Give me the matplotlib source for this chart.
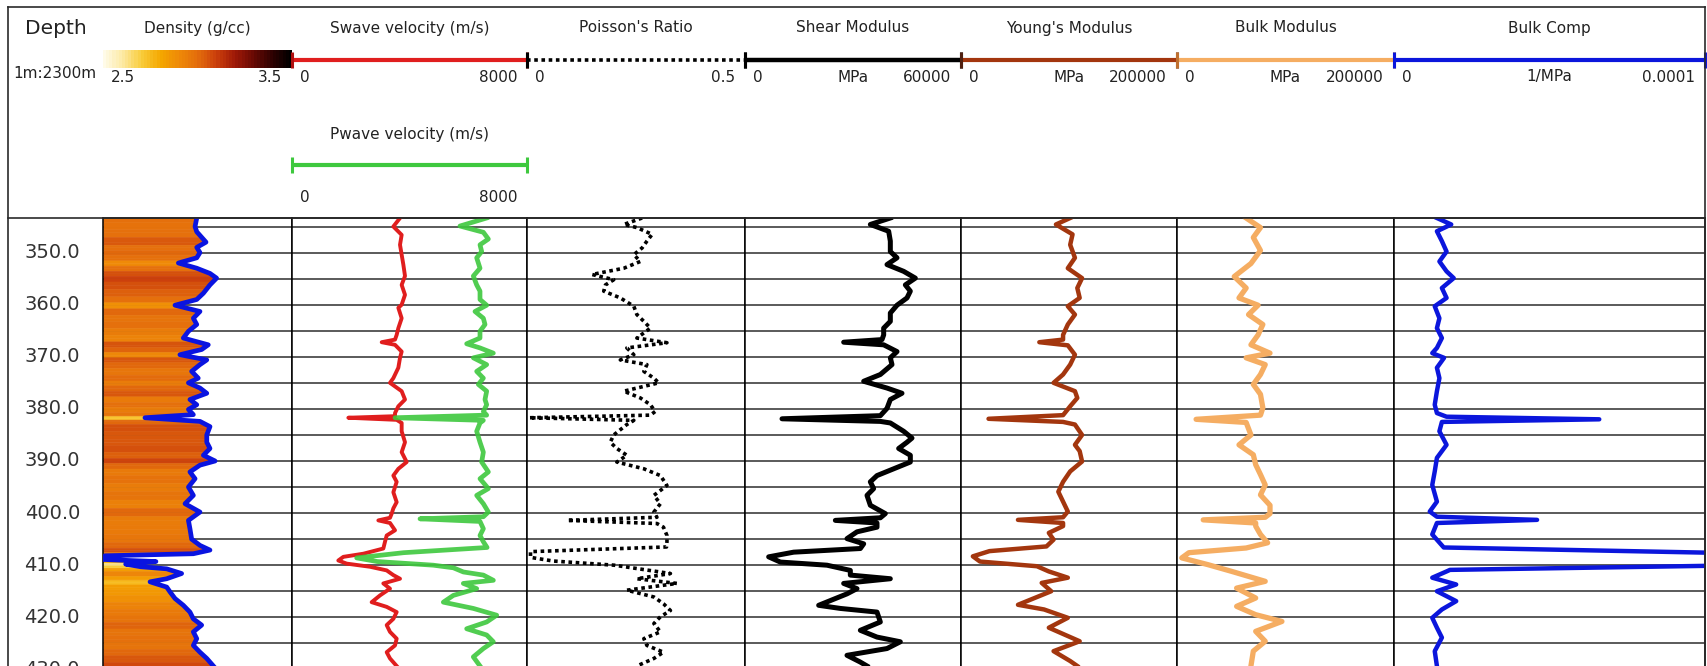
import matplotlib
matplotlib.use("Agg")
import matplotlib.pyplot as plt
from matplotlib.colors import Normalize, LinearSegmentedColormap
from matplotlib import transforms
import numpy as np

# ---------------------------------------------------------------- data
depth_ticks = [350, 360, 370, 380, 390, 400, 410, 420, 430]
grid_depths = [345, 350, 355, 360, 365, 370, 375, 380, 385, 390, 395, 400,
               405, 410, 415, 420, 425]

density_log = [(343.36, 2.996), (345.0, 2.987), (346.0, 2.996), (348.0, 3.045), (349.0, 2.996),
               (350.0, 3.013), (351.0, 2.996), (352.0, 2.899), (353.0, 2.996), (354.0, 3.066),
               (354.9, 3.101), (356.2, 3.066), (357.8, 3.031), (359.0, 2.996), (360.1, 2.881),
               (361.3, 3.013), (362.6, 2.978), (363.8, 2.996), (365.1, 2.952), (366.4, 2.925),
               (367.7, 3.057), (368.6, 3.022), (369.6, 2.907), (370.6, 3.049), (371.5, 3.013),
               (372.8, 2.969), (374.1, 3.004), (375.0, 2.952), (376.0, 3.013), (377.0, 3.049),
               (378.2, 2.960), (379.2, 2.996), (380.1, 2.952), (381.1, 2.978), (381.7, 2.722),
               (382.4, 3.013), (383.4, 3.066), (385.0, 3.049), (386.4, 3.049), (387.6, 3.066),
               (388.9, 3.031), (390.0, 3.093), (390.8, 3.013), (392.1, 2.960), (393.4, 2.987),
               (395.0, 2.952), (396.6, 2.978), (398.2, 2.934), (399.8, 3.013), (401.4, 2.952),
               (403.0, 2.960), (405.0, 2.969), (406.2, 3.013), (407.1, 3.066), (407.8, 2.978),
               (408.2, 2.510), (408.9, 2.500), (409.3, 2.780), (409.8, 2.620), (410.3, 2.700),
               (410.7, 2.837), (411.6, 2.916), (412.6, 2.837), (413.2, 2.749), (414.2, 2.837),
               (415.1, 2.854), (416.4, 2.881), (417.7, 2.925), (419.0, 2.960), (420.3, 2.978),
               (421.5, 3.022), (422.8, 2.978), (424.1, 2.996), (425.4, 2.978), (426.7, 3.013),
               (427.9, 3.049), (429.35, 3.084)]

swave_log = [(343.36, 3677), (345.0, 3450), (346.6, 3733), (348.5, 3677), (350.4, 3733),
             (352.3, 3790), (354.5, 3847), (356.2, 3733), (358.1, 3847), (360.0, 3733),
             (360.6, 3620), (362.6, 3733), (364.5, 3620), (365.8, 3563), (366.7, 3507),
             (367.2, 3053), (367.7, 3507), (369.0, 3733), (370.2, 3677), (372.1, 3620),
             (374.1, 3450), (375.0, 3336), (376.6, 3733), (378.2, 3847), (379.5, 3620),
             (380.8, 3507), (381.4, 3507), (381.7, 1918), (382.1, 3563), (382.7, 3733),
             (384.3, 3733), (386.4, 3847), (388.3, 3733), (390.2, 3904), (391.5, 3620),
             (392.8, 3450), (394.0, 3563), (396.0, 3450), (397.9, 3563), (399.1, 3450),
             (400.1, 3393), (400.9, 3336), (401.4, 2939), (401.9, 3336), (403.3, 3507),
             (404.3, 3223), (405.5, 3166), (406.8, 3109), (407.8, 2428), (408.4, 1748),
             (409.1, 1577), (409.7, 1861), (410.3, 2655), (411.0, 3223), (411.9, 3450),
             (412.6, 3677), (413.5, 3109), (414.5, 3336), (415.8, 2996), (417.1, 2712),
             (418.0, 3223), (419.0, 3563), (420.3, 3450), (421.5, 3223), (422.8, 3336),
             (424.1, 3563), (425.4, 3507), (426.7, 3223), (427.9, 3336), (429.35, 3563)]

pwave_log = [(343.36, 6627), (344.9, 5719), (346.1, 6514), (347.4, 6684), (348.5, 6400),
             (349.8, 6457), (351.0, 6287), (353.0, 6400), (354.5, 6173), (356.2, 6287),
             (357.4, 6400), (359.0, 6400), (360.1, 6627), (361.3, 6230), (362.6, 6514),
             (363.8, 6570), (365.1, 6400), (366.4, 6400), (367.5, 5946), (368.3, 6400),
             (369.3, 6854), (370.2, 6173), (371.5, 6627), (372.8, 6287), (374.1, 6514),
             (375.3, 6344), (376.6, 6627), (378.2, 6570), (379.2, 6627), (380.5, 6514),
             (381.2, 6627), (381.7, 3507), (382.2, 6514), (382.7, 6400), (384.3, 6287),
             (386.4, 6400), (388.3, 6514), (390.2, 6457), (392.1, 6684), (393.4, 6400),
             (395.3, 6684), (396.6, 6287), (398.2, 6514), (399.8, 6684), (400.7, 6514),
             (401.1, 4358), (401.6, 6400), (403.0, 6514), (404.3, 6400), (405.5, 6514),
             (406.6, 6640), (407.6, 3800), (408.6, 2202), (409.3, 2900), (410.0, 4812),
             (410.5, 5492), (411.3, 5833), (411.9, 6514), (412.9, 6854), (413.5, 5833),
             (414.5, 6287), (415.8, 5492), (417.1, 5152), (418.3, 6173), (419.6, 6968),
             (420.9, 6627), (422.2, 5946), (423.4, 6627), (424.7, 6854), (426.0, 6514),
             (427.6, 6173), (429.35, 6400)]

poisson_log = [(343.36, 0.264), (344.6, 0.222), (345.2, 0.252), (346.5, 0.287), (347.8, 0.275),
               (349.1, 0.264), (350.4, 0.245), (351.7, 0.260), (353.0, 0.222), (354.2, 0.149),
               (355.2, 0.199), (356.2, 0.180), (357.4, 0.176), (358.7, 0.214), (360.3, 0.245),
               (361.9, 0.252), (363.2, 0.268), (364.5, 0.283), (366.4, 0.252), (367.3, 0.321),
               (368.3, 0.229), (369.6, 0.245), (370.6, 0.214), (371.5, 0.275), (372.8, 0.268),
               (374.1, 0.291), (375.0, 0.302), (376.6, 0.222), (377.9, 0.260), (379.2, 0.283),
               (380.5, 0.294), (381.2, 0.283), (381.7, 0.005), (382.2, 0.245), (383.0, 0.229),
               (385.0, 0.199), (386.4, 0.191), (387.6, 0.206), (388.9, 0.229), (390.2, 0.206),
               (391.5, 0.268), (392.8, 0.306), (394.7, 0.321), (396.6, 0.291), (398.2, 0.306),
               (399.8, 0.291), (400.8, 0.298), (401.4, 0.092), (402.0, 0.298), (402.7, 0.313),
               (404.3, 0.321), (405.5, 0.321), (406.5, 0.320), (407.4, 0.008), (408.5, 0.008),
               (409.2, 0.060), (410.0, 0.200), (411.6, 0.329), (412.6, 0.252), (413.5, 0.344),
               (414.8, 0.229), (416.1, 0.291), (417.4, 0.313), (418.7, 0.329), (419.9, 0.306),
               (421.2, 0.291), (422.8, 0.306), (424.1, 0.268), (425.4, 0.275), (426.7, 0.313),
               (427.9, 0.291), (429.35, 0.252)]

shear_log = [(343.36, 40370), (344.6, 34815), (345.9, 39907), (347.8, 40370), (349.8, 40370),
             (351.0, 42222), (352.3, 39444), (353.6, 44074), (354.9, 47315), (356.2, 44537),
             (357.4, 45926), (358.7, 45000), (360.1, 42222), (361.6, 40370), (363.2, 40370),
             (364.5, 38519), (365.8, 38519), (366.7, 38055), (367.2, 27407), (367.7, 38519),
             (369.0, 42222), (370.2, 40370), (371.5, 40833), (373.4, 37593), (374.7, 32963),
             (376.0, 39444), (377.0, 43611), (378.2, 40370), (379.9, 39444), (381.3, 37593),
             (381.9, 10278), (382.4, 37593), (382.7, 40370), (384.3, 44074), (385.6, 46389),
             (386.4, 45000), (387.6, 42685), (388.9, 45926), (390.2, 45926), (391.5, 41296),
             (392.8, 36667), (394.0, 34815), (395.3, 35741), (396.6, 33889), (398.5, 34815),
             (400.1, 38981), (400.9, 37593), (401.4, 25093), (401.9, 36667), (402.7, 36667),
             (403.6, 31111), (404.9, 28333), (405.9, 32963), (406.8, 32037), (407.5, 13518),
             (408.4, 6574), (409.4, 9815), (410.0, 22778), (411.0, 29259), (411.9, 29259),
             (412.6, 40370), (413.5, 27407), (414.5, 31111), (415.5, 28333), (417.7, 20463),
             (418.3, 26481), (419.0, 36667), (420.9, 37593), (422.5, 32037), (423.8, 36667),
             (424.7, 43148), (426.0, 39444), (427.3, 28333), (428.6, 32037), (429.35, 33889)]

young_log = [(343.36, 101099), (344.6, 87912), (346.5, 103297), (348.5, 101099), (351.0, 105495),
             (353.0, 98901), (354.9, 112088), (356.8, 107692), (358.7, 109890), (360.3, 98901),
             (361.9, 105495), (363.8, 98901), (365.8, 94505), (366.7, 94505), (367.2, 72527),
             (367.8, 98901), (369.6, 105495), (371.5, 101099), (373.4, 94505), (375.0, 85714),
             (376.6, 105495), (377.9, 107692), (379.5, 101099), (381.2, 94505), (381.9, 25495),
             (382.5, 94505), (383.0, 105495), (385.0, 112088), (386.9, 105495), (388.1, 109890),
             (390.1, 112088), (392.0, 101099), (394.0, 94505), (395.9, 90110), (397.8, 94505),
             (399.7, 98901), (400.8, 94505), (401.3, 52747), (401.9, 94505), (402.5, 94505),
             (403.8, 81319), (405.1, 85714), (406.4, 79121), (407.3, 26374), (408.3, 10989),
             (409.3, 17582), (410.2, 70330), (411.2, 81319), (412.4, 98901), (413.4, 74725),
             (415.0, 83516), (417.6, 52747), (418.5, 76923), (420.1, 98901), (422.0, 81319),
             (424.6, 109890), (426.5, 85714), (428.4, 101099), (429.35, 107692)]

bulk_log = [(343.36, 63736), (345.2, 76923), (347.1, 70330), (349.6, 76923), (352.1, 68132),
            (354.6, 52747), (356.8, 63736), (358.7, 57143), (360.1, 74725), (361.9, 65934),
            (363.8, 79121), (365.8, 74725), (367.7, 68132), (369.3, 85714), (370.2, 63736),
            (371.5, 81319), (373.4, 76923), (375.3, 70330), (377.2, 76923), (379.8, 79121),
            (381.2, 76923), (382.0, 17582), (382.6, 63736), (385.0, 68132), (386.9, 57143),
            (388.8, 70330), (390.7, 72527), (392.6, 76923), (394.6, 81319), (396.5, 76923),
            (398.5, 85714), (400.1, 85714), (400.8, 81319), (401.3, 24176), (401.9, 72527),
            (402.5, 72527), (404.1, 76923), (405.7, 83516), (406.7, 63736), (407.6, 10989),
            (408.6, 4396), (409.9, 28571), (411.2, 50549), (413.1, 81319), (414.4, 54945),
            (416.3, 72527), (417.9, 54945), (419.5, 72527), (420.8, 96703), (422.7, 72527),
            (424.6, 81319), (426.5, 70330), (429.35, 68132)]

comp_log = [(343.36, 1.38e-5), (344.6, 1.84e-5), (345.9, 1.38e-5), (347.8, 1.54e-5), (349.8, 1.69e-5),
            (351.7, 1.46e-5), (353.6, 1.69e-5), (354.9, 1.92e-5), (356.8, 1.54e-5), (358.7, 1.69e-5),
            (360.3, 1.31e-5), (362.6, 1.46e-5), (364.5, 1.38e-5), (366.4, 1.54e-5), (368.3, 1.38e-5),
            (369.3, 1.23e-5), (370.2, 1.61e-5), (372.1, 1.38e-5), (374.1, 1.46e-5), (376.6, 1.38e-5),
            (379.2, 1.31e-5), (380.8, 1.38e-5), (381.5, 1.69e-5), (382.0, 6.6e-5), (382.5, 1.54e-5),
            (384.3, 1.46e-5), (386.9, 1.69e-5), (389.4, 1.38e-5), (392.0, 1.31e-5), (394.6, 1.23e-5),
            (397.8, 1.38e-5), (399.7, 1.15e-5), (400.7, 1.38e-5), (401.3, 4.6e-5), (401.9, 1.38e-5),
            (404.1, 1.23e-5), (406.6, 1.6e-5), (409.0, 2.2e-4), (410.9, 1.8e-5), (411.2, 1.69e-5),
            (412.4, 1.23e-5), (413.7, 2.0e-5), (415.0, 1.38e-5), (416.9, 2.0e-5), (418.5, 1.54e-5),
            (420.1, 1.23e-5), (422.0, 1.38e-5), (423.9, 1.54e-5), (426.5, 1.31e-5), (429.35, 1.38e-5)]

# ---------------------------------------------------------------- layout
W, H = 1707, 666
fig = plt.figure(figsize=(W / 100, H / 100), dpi=100)
fig.patch.set_facecolor("white")

TOP, HDR = 7, 218
LEFT, RIGHT = 8, 1705
D_TOP, D_BOT = 343.36, 429.35
TXT = "#222222"
FS = 11
edges = [103, 292, 527, 745, 961, 1177, 1394, 1705]
ranges = [(2.5, 3.5), (0, 8000), (0, 0.5), (0, 60000), (0, 200000), (0, 200000), (0, 0.0001)]

cmap = LinearSegmentedColormap.from_list(
    "dens", ["#fffbe8", "#fde9a0", "#f9cc3a", "#f5a800", "#ef8a08", "#e46e0c",
             "#cc400c", "#a01a08", "#6a0a04", "#300202", "#000000"])
dnorm = Normalize(2.5, 3.5)


def axes_px(x0, y0, x1, y1, **kw):
    return fig.add_axes([x0 / W, 1 - y1 / H, (x1 - x0) / W, (y1 - y0) / H], **kw)


def unzip(log):
    d, v = zip(*log)
    return np.array(d), np.array(v)


# depth column
dax = axes_px(LEFT, HDR, edges[0], H)
dax.set_xlim(LEFT, edges[0])
dax.set_ylim(D_BOT, D_TOP)
dax.axis("off")
for t in depth_ticks:
    dax.text(80, t, f"{t:.1f}", ha="right", va="center", fontsize=14, color="#333333",
             clip_on=False)

# data tracks
tracks = []
for i in range(7):
    ax = axes_px(edges[i], HDR, edges[i + 1], H)
    ax.set_xlim(*ranges[i])
    ax.set_ylim(D_BOT, D_TOP)
    ax.set_xticks([])
    ax.set_yticks([])
    for s in ("left", "right", "top"):
        ax.spines[s].set_color("black")
        ax.spines[s].set_linewidth(1.1)
    ax.spines["bottom"].set_visible(False)
    for g in grid_depths:
        ax.axhline(g, color="#4d4d4d", lw=1.3, zorder=1)
    tracks.append(ax)

# density: colour-filled track
dd, dv = unzip(density_log)
ax = tracks[0]
for i in range(len(dd) - 1):
    dm = (dd[i] + dd[i + 1]) / 2
    vm = (dv[i] + dv[i + 1]) / 2
    c0, c1 = cmap(dnorm(dv[i])), cmap(dnorm(dv[i + 1]))
    ax.fill_betweenx([dd[i], dm], 2.5, [dv[i], vm], color=c0, lw=0.4, edgecolor=c0, zorder=2)
    ax.fill_betweenx([dm, dd[i + 1]], 2.5, [vm, dv[i + 1]], color=c1, lw=0.4, edgecolor=c1,
                     zorder=2)
ax.plot(dv, dd, color="#0a14e0", lw=3.4, zorder=3, solid_joinstyle="round")

RED, GREEN, BROWN, LORANGE, BLUE = "#e01e1e", "#3ec83e", "#a3360e", "#f5ad62", "#0b16dc"

d, v = unzip(swave_log)
tracks[1].plot(v, d, color=RED, lw=2.8, zorder=3)
d, v = unzip(pwave_log)
tracks[1].plot(v, d, color=GREEN, lw=3.4, zorder=4, alpha=0.9)
d, v = unzip(poisson_log)
tracks[2].plot(v, d, color="black", lw=2.6, ls=(0, (1.0, 1.0)), zorder=3)
d, v = unzip(shear_log)
tracks[3].plot(v, d, color="black", lw=3.6, zorder=3)
d, v = unzip(young_log)
tracks[4].plot(v, d, color=BROWN, lw=3.2, zorder=3)
d, v = unzip(bulk_log)
tracks[5].plot(v, d, color=LORANGE, lw=3.8, zorder=3)
d, v = unzip(comp_log)
tracks[6].plot(v, d, color=BLUE, lw=3.2, zorder=3)

# ---------------------------------------------------------------- header
TITLE_Y, BAR_Y, LAB_Y = 28, 60, 77
P_TITLE_Y, P_BAR_Y, P_LAB_Y = 135, 165, 197


def header_axes(i):
    hx = axes_px(edges[i], TOP, edges[i + 1], HDR)
    hx.set_xlim(*ranges[i])
    hx.set_ylim(HDR, TOP)
    hx.axis("off")
    return hx


def title(hx, y, s):
    tr = transforms.blended_transform_factory(hx.transAxes, hx.transData)
    hx.text(0.5, y, s, transform=tr, ha="center", va="center", fontsize=FS, color=TXT)


def labels(hx, y, left, right, mid=None):
    x0, x1 = hx.get_xlim()
    hx.annotate(left, xy=(x0, y), xytext=(8 * 0.72, 0), textcoords="offset points",
                ha="left", va="center", fontsize=FS, color=TXT, annotation_clip=False)
    hx.annotate(right, xy=(x1, y), xytext=(-10 * 0.72, 0), textcoords="offset points",
                ha="right", va="center", fontsize=FS, color=TXT, annotation_clip=False)
    if mid:
        title(hx, y, mid)


def scale_bar(hx, y, color, lw=3.0, ls="-", cap=None):
    x0, x1 = hx.get_xlim()
    hx.plot([x0, x1], [y, y], color=color, lw=lw, ls=ls, clip_on=False, solid_capstyle="butt")
    hx.plot([x0, x1], [y, y], ls="none", marker="|", ms=11, mew=2.2, color=cap or color,
            clip_on=False)


# depth header
dh = axes_px(LEFT, TOP, edges[0], HDR)
dh.set_xlim(LEFT, edges[0])
dh.set_ylim(HDR, TOP)
dh.axis("off")
dh.text(56, TITLE_Y, "Depth", ha="center", va="center", fontsize=14.5, color=TXT)
dh.text(13, 73, "1m:2300m", ha="left", va="center", fontsize=FS, color=TXT)

# density header
hx = header_axes(0)
grad = np.linspace(2.5, 3.5, 60).reshape(1, -1)
hx.imshow(grad, extent=[2.5, 3.5, 68, 50], aspect="auto", cmap=cmap, norm=dnorm,
          interpolation="nearest")
hx.set_xlim(*ranges[0])
hx.set_ylim(HDR, TOP)
title(hx, TITLE_Y, "Density (g/cc)")
labels(hx, LAB_Y, "2.5", "3.5")

hx = header_axes(1)
title(hx, TITLE_Y, "Swave velocity (m/s)")
scale_bar(hx, BAR_Y, RED, cap="#b01010")
labels(hx, LAB_Y, "0", "8000")
title(hx, P_TITLE_Y, "Pwave velocity (m/s)")
scale_bar(hx, P_BAR_Y, GREEN)
labels(hx, P_LAB_Y, "0", "8000")

hx = header_axes(2)
title(hx, TITLE_Y, "Poisson's Ratio")
scale_bar(hx, BAR_Y, "black", lw=2.6, ls=(0, (1.0, 1.0)))
labels(hx, LAB_Y, "0", "0.5")

hx = header_axes(3)
title(hx, TITLE_Y, "Shear Modulus")
scale_bar(hx, BAR_Y, "black", lw=3.2)
labels(hx, LAB_Y, "0", "60000", "MPa")

hx = header_axes(4)
title(hx, TITLE_Y, "Young's Modulus")
scale_bar(hx, BAR_Y, BROWN, cap="#502010")
labels(hx, LAB_Y, "0", "200000", "MPa")

hx = header_axes(5)
title(hx, TITLE_Y, "Bulk Modulus")
scale_bar(hx, BAR_Y, LORANGE, cap="#c07030")
labels(hx, LAB_Y, "0", "200000", "MPa")

hx = header_axes(6)
title(hx, TITLE_Y, "Bulk Comp")
scale_bar(hx, BAR_Y, BLUE)
labels(hx, LAB_Y, "0", "0.0001", "1/MPa")

# outer frame
ov = fig.add_axes([0, 0, 1, 1], zorder=20)
ov.set_xlim(0, W)
ov.set_ylim(H, 0)
ov.axis("off")
fc = "#2a2a2a"
ov.plot([LEFT, RIGHT], [TOP, TOP], color=fc, lw=1.2)
ov.plot([LEFT, LEFT], [TOP, H], color=fc, lw=1.2)
ov.plot([RIGHT, RIGHT], [TOP, H], color=fc, lw=1.2)
ov.plot([LEFT, RIGHT], [HDR, HDR], color=fc, lw=1.2)

fig.savefig("out.png", dpi=100, facecolor="white")
